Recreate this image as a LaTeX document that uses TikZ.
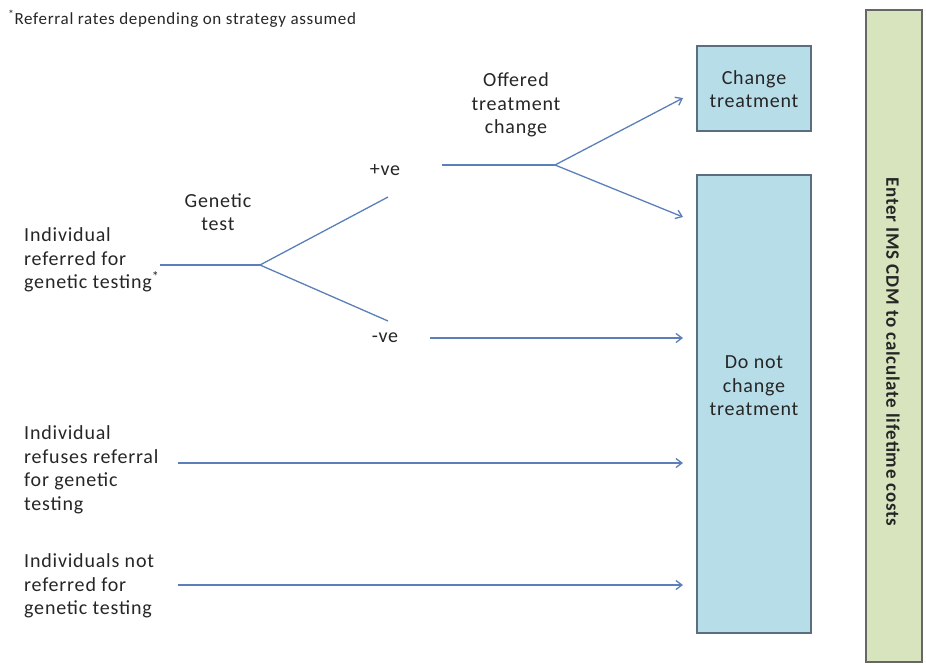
\documentclass[tikz,border=0pt]{standalone}
\usepackage{fontspec}
\setmainfont[LetterSpace=4]{Carlito}
\usetikzlibrary{arrows.meta}
\definecolor{boxblue}{HTML}{B7DDE8}
\definecolor{boxgreen}{HTML}{D7E4BD}
\definecolor{edgegray}{HTML}{5A6E80}
\definecolor{linkblue}{HTML}{5B7FB8}
\definecolor{txt}{HTML}{262626}
\tikzset{
  lbl/.style={inner sep=0pt, text=txt, font=\fontsize{20}{23.5}\selectfont, align=left},
  clbl/.style={lbl, align=center},
  link/.style={draw=linkblue, line width=1.3pt},
  arr/.style={link, -{Straight Barb[length=6pt,width=9pt,line width=1.3pt]}},
  bluebox/.style={draw=edgegray, line width=1.3pt, fill=boxblue},
  greenbox/.style={draw=gray!80!black, line width=1.3pt, fill=boxgreen}
}
\begin{document}
\begin{tikzpicture}[x=1pt,y=-1pt]
\useasboundingbox (0,0) rectangle (926,664);
% note
\node[lbl, anchor=west, font=\fontsize{17}{20}\selectfont] (note) at (8,19) {\textsuperscript{*}Referral rates depending on strategy assumed};
% boxes
\draw[bluebox] (697,46) rectangle (811,131);
\node[clbl] (chg) at (754,89) {Change\\treatment};
\draw[bluebox] (697,175) rectangle (811,633);
\node[clbl] (nochg) at (754,386) {Do not\\change\\treatment};
\draw[greenbox] (866,10) rectangle (922,662);
\node[lbl, font=\bfseries\fontsize{19}{22}\selectfont, rotate=-90] (ims) at (893,352) {Enter IMS CDM to calculate lifetime costs};
% left labels
\node[lbl, anchor=west] (ind1) at (24,260) {Individual\\referred for\\genetic testing\textsuperscript{*}};
\node[lbl, anchor=west] (ind2) at (24,470) {Individual\\refuses referral\\for genetic\\testing};
\node[lbl, anchor=west] (ind3) at (24,586) {Individuals not\\referred for\\genetic testing};
\node[clbl] (gtest) at (218,212) {Genetic\\test};
\node[clbl] (pos) at (385,170) {+ve};
\node[clbl] (neg) at (385,338) {-ve};
\node[clbl] (offer) at (516,105) {Offered\\treatment\\change};
% coordinates
\coordinate (a0) at (160,265);
\coordinate (g) at (260,265);
\coordinate (pu) at (388,197);
\coordinate (nd) at (388,321);
\coordinate (p0) at (442,165);
\coordinate (o) at (555,165);
\coordinate (t1) at (683,98);
\coordinate (t2) at (683,217);
\coordinate (n0) at (430,338);
\coordinate (t3) at (683,338);
\coordinate (r0) at (178,463);
\coordinate (t4) at (683,463);
\coordinate (q0) at (178,585);
\coordinate (t5) at (683,585);
% connectors
\draw[link] (a0) -- (g);
\draw[link] (g) -- (pu);
\draw[link] (g) -- (nd);
\draw[link] (p0) -- (o);
\draw[arr] (o) -- (t1);
\draw[arr] (o) -- (t2);
\draw[arr] (n0) -- (t3);
\draw[arr] (r0) -- (t4);
\draw[arr] (q0) -- (t5);
\end{tikzpicture}
\end{document}
